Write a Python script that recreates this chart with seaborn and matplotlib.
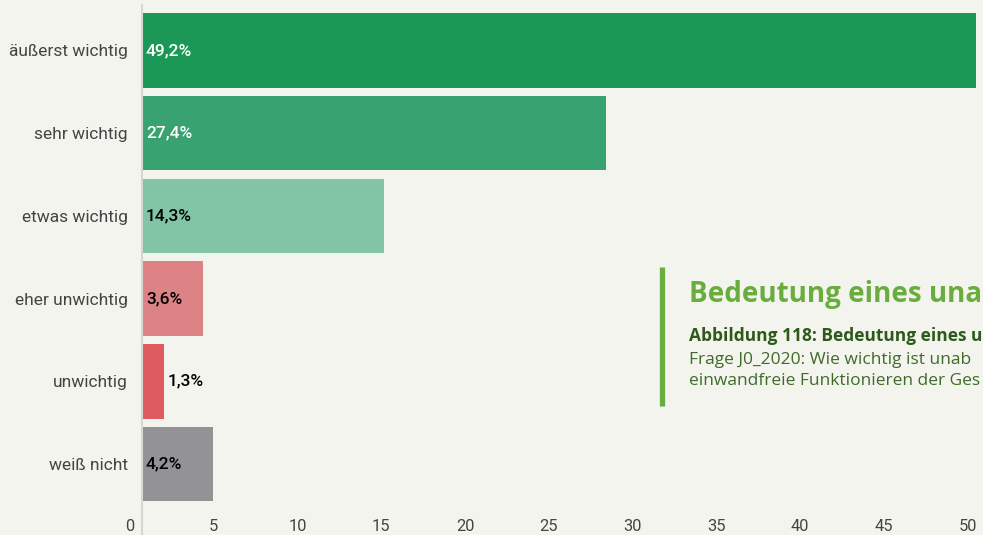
import matplotlib
matplotlib.use("Agg")
import matplotlib.pyplot as plt
from matplotlib.lines import Line2D
import seaborn as sns
import pandas as pd

categories = ["äußerst wichtig", "sehr wichtig", "etwas wichtig", "eher unwichtig", "unwichtig", "weiß nicht"]
values = [49.2, 27.4, 14.3, 3.6, 1.3, 4.2]
value_labels = ["49,2%", "27,4%", "14,3%", "3,6%", "1,3%", "4,2%"]
colors = ["#1b9855", "#38a271", "#82c4a6", "#dd8385", "#de5b60", "#939395"]
label_colors = ["white", "white", "black", "black", "black", "black"]
xticks = [0, 5, 10, 15, 20, 25, 30, 35, 40, 45, 50]

title = "Bedeutung eines una"
subtitle = "Abbildung 118: Bedeutung eines u"
question_1 = "Frage J0_2020: Wie wichtig ist unab"
question_2 = "einwandfreie Funktionieren der Ges"

BG = "#f4f4ee"
sns.set_theme(style="white")
plt.rcParams["font.family"] = ["Roboto", "DejaVu Sans"]

W, H, DPI = 983, 535, 100
fig = plt.figure(figsize=(W / DPI, H / DPI), dpi=DPI, facecolor=BG)
px_per_unit = 16.95
x_min, x_max = -1, 55
zero_px, top_px, bottom_px = 142, 9.1, 505.4
left_px = zero_px + x_min * px_per_unit
ax = fig.add_axes([left_px / W, (H - bottom_px) / H,
                   (x_max - x_min) * px_per_unit / W, (bottom_px - top_px) / H])
ax.set_facecolor(BG)

df = pd.DataFrame({"cat": categories, "val": values})
sns.barplot(data=df, x="val", y="cat", hue="cat", palette=colors, orient="h",
            width=0.9, legend=False, ax=ax, saturation=1, edgecolor="none")

ax.set_xlim(x_min, x_max)
ax.set_xticks([])
ax.set_xlabel("")
ax.set_ylabel("")
# y labels end ~14 px left of the zero line
ax.tick_params(axis="y", length=0, pad=-(128 - left_px) * 72 / DPI,
               labelsize=12.5, labelcolor="#444444")

# tick-label scale of the reference is slightly offset from the bar scale
tick_px = 16.75
tick_zero_px = 130 - zero_px


def fwd(x):
    return (x * px_per_unit - tick_zero_px) / tick_px


def inv(v):
    return (v * tick_px + tick_zero_px) / px_per_unit


sec = ax.secondary_xaxis("bottom", functions=(fwd, inv))
sec.set_xticks(xticks)
sec.set_xticklabels([str(t) for t in xticks])
sec.tick_params(axis="x", length=0, pad=9.5, labelsize=11.8, labelcolor="#444444")
for s in sec.spines.values():
    s.set_visible(False)

for s in ["top", "right", "bottom", "left"]:
    ax.spines[s].set_visible(False)

# left axis line extending over full height
x_fig = (zero_px - 0.5) / W
fig.add_artist(Line2D([x_fig, x_fig], [0, (H - 5) / H], color="#d6d6d2", lw=1.5))

# value labels
for i, (v, lab, c) in enumerate(zip(values, value_labels, label_colors)):
    if v < 2:
        ax.annotate(lab, xy=(v, i), xytext=(4, 0), textcoords="offset pixels",
                    va="center", ha="left", fontsize=12.5, color="black", fontweight="medium")
    else:
        ax.annotate(lab, xy=(0, i), xytext=(4, 0), textcoords="offset pixels",
                    va="center", ha="left", fontsize=12.5, color=c, fontweight="medium")

# title box
fam = ["Open Sans", "DejaVu Sans"]
fig.add_artist(Line2D([662 / W, 662 / W], [(H - 266.7) / H, (H - 406) / H],
                      color="#6aad3f", lw=3.8, solid_capstyle="butt"))
fig.text(689 / W, (H - 302) / H, title,
         fontsize=20, fontweight="bold", color="#6aad3f", family=fam,
         va="baseline", ha="left")
fig.text(689 / W, (H - 341) / H, subtitle,
         fontsize=12.5, fontweight="bold", color="#2d5a1a", family=fam,
         va="baseline", ha="left")
fig.text(689 / W, (H - 364) / H, question_1,
         fontsize=12.5, color="#3f6b2a", family=fam,
         va="baseline", ha="left")
fig.text(689 / W, (H - 385) / H, question_2,
         fontsize=12.5, color="#3f6b2a", family=fam,
         va="baseline", ha="left")

fig.savefig("out.png", dpi=DPI, facecolor=BG)
